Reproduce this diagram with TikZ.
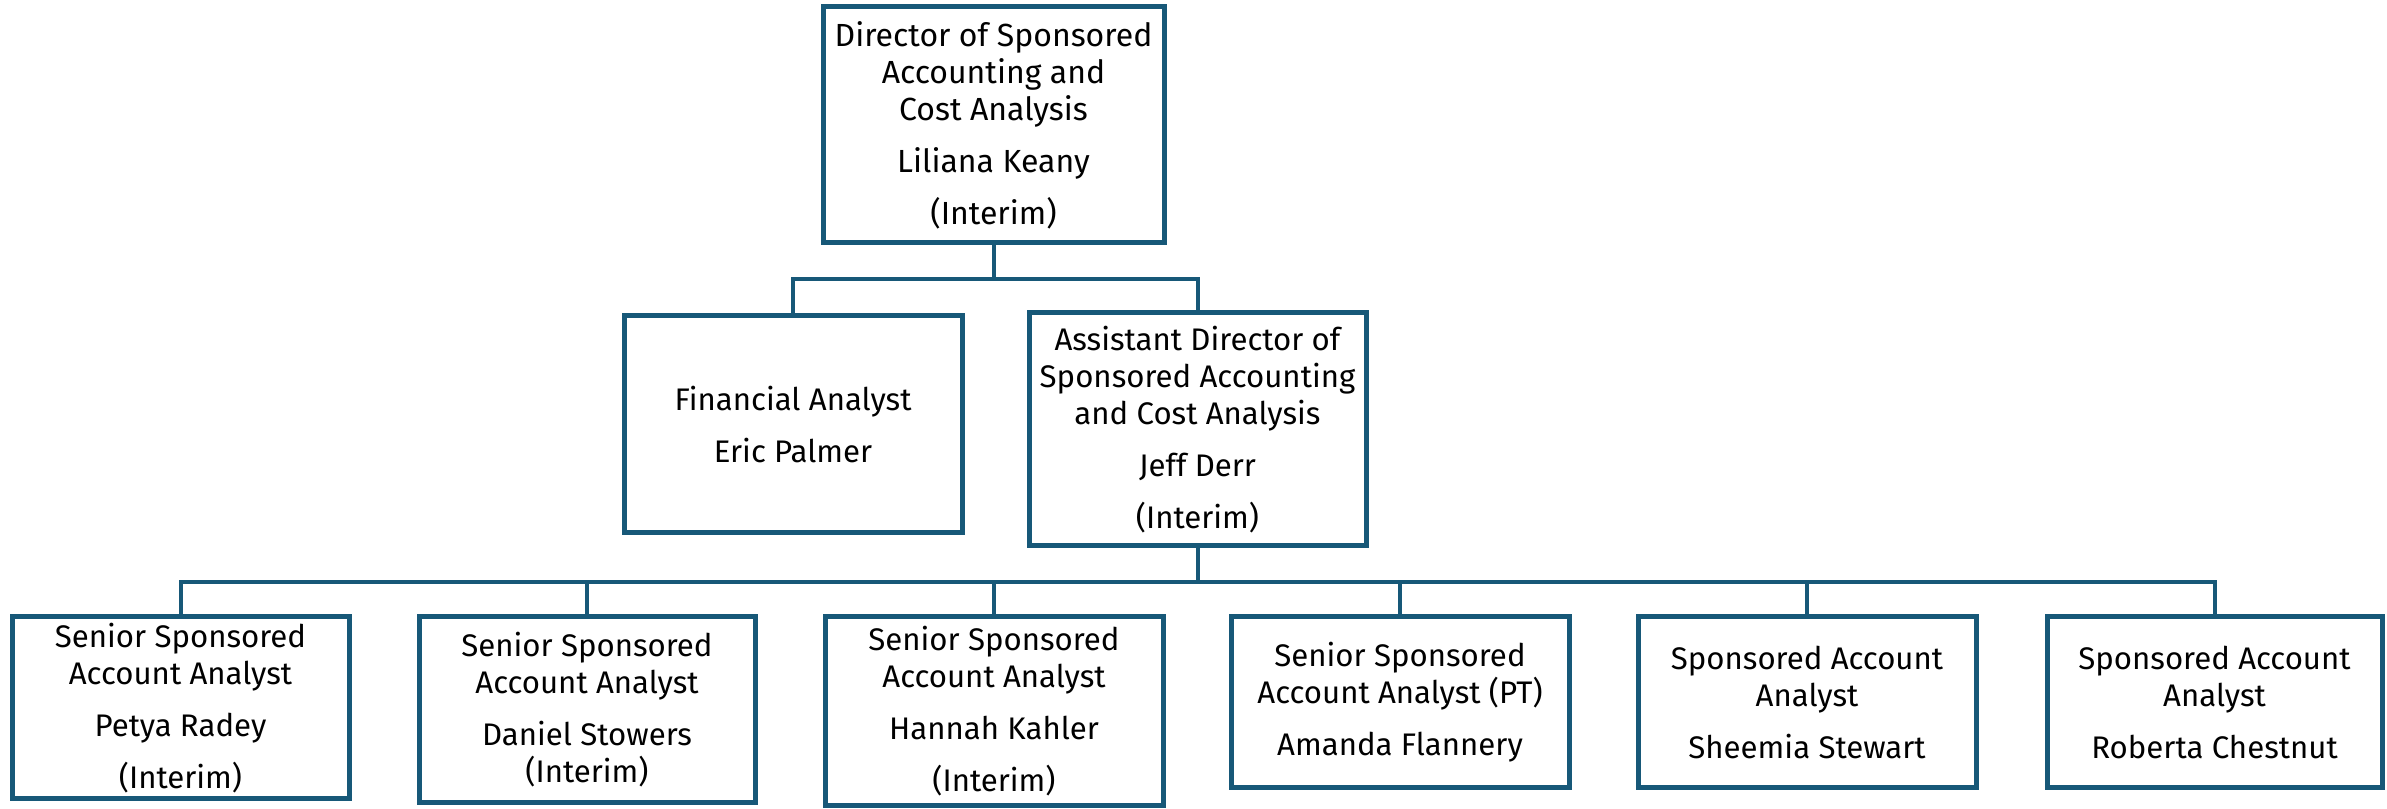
\documentclass[tikz,border=0pt]{standalone}
\usepackage{fontspec}
\setmainfont{Fira Sans}
\definecolor{orgblue}{RGB}{23,88,120}
\begin{document}
\begin{tikzpicture}[x=0.25pt,y=-0.25pt,
  box/.style 2 args={draw=orgblue, line width=1.25pt, fill=white, align=center,
    inner sep=0pt, minimum width=#1*0.25pt, minimum height=#2*0.25pt,
    font=\fontsize{7.8pt}{9.25pt}\selectfont},
  topbox/.style={font=\fontsize{8pt}{9.25pt}\selectfont},
  link/.style={draw=orgblue, line width=1pt}]
\useasboundingbox (0,0) rectangle (2387,809);
\def\gap{\\[3.75pt]}
% top
\node[box={341}{236}, topbox] (top) at (993.5,125) {Director of Sponsored\\Accounting and\\Cost Analysis\gap Liliana Keany\gap (Interim)};
% middle
\node[box={338}{217}] (fin) at (793,424.5) {Financial Analyst\gap Eric Palmer};
\node[box={337}{233}] (asst) at (1197.5,429.5) {Assistant Director of\\Sponsored Accounting\\and Cost Analysis\gap Jeff Derr\gap (Interim)};
% bottom
\node[box={337}{182}] (b1) at (180.5,708) {Senior Sponsored\\Account Analyst\gap Petya Radey\gap (Interim)};
\node[box={336}{186}] (b2) at (587,710) {Senior Sponsored\\Account Analyst\gap Daniel Stowers\\(Interim)};
\node[box={338}{189}] (b3) at (994,711.5) {Senior Sponsored\\Account Analyst\gap Hannah Kahler\gap (Interim)};
\node[box={338}{171}] (b4) at (1400,702.5) {Senior Sponsored\\Account Analyst (PT)\gap Amanda Flannery};
\node[box={338}{171}] (b5) at (1807,702.5) {Sponsored Account\\Analyst\gap Sheemia Stewart};
\node[box={335}{171}] (b6) at (2214.5,702.5) {Sponsored Account\\Analyst\gap Roberta Chestnut};
% connectors
\coordinate (j1) at (993.5,279);
\coordinate (j2) at (1197.5,582);
\draw[link] (top.south) -- (j1);
\draw[link] (fin.north) |- (j1) -| (asst.north);
\draw[link] (asst.south) -- (j2);
\draw[link] (b1.north) |- (j2) -| (b6.north);
\foreach \b in {b2,b3,b4,b5} \draw[link] (\b.north) -- (\b.north |- j2);
\end{tikzpicture}
\end{document}
